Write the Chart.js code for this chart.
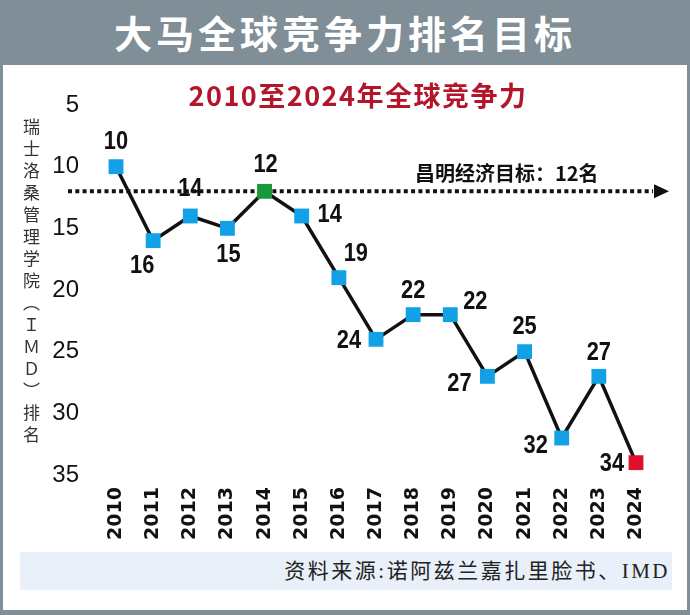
<!DOCTYPE html>
<html>
<head>
<meta charset="utf-8">
<script src="https://cdn.jsdelivr.net/npm/chart.js@4"></script>
<style>
  html, body { margin: 0; padding: 0; }
  body { width: 690px; height: 615px; background: #808e97; position: relative; overflow: hidden; }
  .title { position: absolute; left: 0; top: 8px; width: 690px; text-align: center;
           color: #fff; font: bold 38px 'Noto Sans CJK SC', sans-serif; letter-spacing: 4px; line-height: 48px; }
  .panel { position: absolute; left: 3px; top: 65px; width: 684px; height: 545px; background: #fff; }
  .subtitle { position: absolute; left: 0; top: 13px; width: 710px; text-align: center;
              color: #b3152b; font: bold 27px 'Noto Sans CJK SC', sans-serif;
              letter-spacing: 1.5px; line-height: 34px; }
  .ytitle { position: absolute; left: 16px; top: 53px; writing-mode: vertical-rl; text-orientation: upright;
            color: #333; font: 17px 'Noto Sans CJK SC', sans-serif; letter-spacing: 5px; }
  .footer { position: absolute; left: 17px; top: 487px; width: 652px; height: 38px; background: #e9f0f9;
            text-align: right; color: #222; font: 21px 'Liberation Serif', 'Noto Sans CJK SC', serif;
            line-height: 38px; box-sizing: border-box; padding-right: 2px; letter-spacing: 2.5px; }
  .chart-box { position: absolute; left: 0; top: 0; width: 684px; height: 545px; }
</style>
</head>
<body>
<div class="title">大马全球竞争力排名目标</div>
<div class="panel">
  <div class="chart-box"><canvas id="rankChart"></canvas></div>
  <div class="subtitle">2010至2024年全球竞争力</div>
  <div class="ytitle">瑞士洛桑管理学院（ＩＭＤ）排名</div>
  <div class="footer">资料来源:诺阿兹兰嘉扎里脸书、IMD</div>
</div>

<script>
// ── data ────────────────────────────────────────────────
const YEARS = ['2010','2011','2012','2013','2014','2015','2016','2017','2018','2019','2020','2021','2022','2023','2024'];
const RANKS = [10, 16, 14, 15, 12, 14, 19, 24, 22, 22, 27, 25, 32, 27, 34];
const TARGET = 12;
const TARGET_LABEL = '昌明经济目标：12名';
const Y_TICKS = [5, 10, 15, 20, 25, 30, 35];

// ── styles ──────────────────────────────────────────────
const BLUE = '#12a0e6', GREEN = '#17983a', RED = '#e0112b';
const pointColors = YEARS.map(y => y === '2014' ? GREEN : y === '2024' ? RED : BLUE);
// label offsets from each marker [dx, dy]
const LABEL_OFFSETS = [
  [0,-25], [-11,25], [0,-27], [1,26], [1,-27], [28,-1], [17,-24], [-27,1],
  [0,-24], [25,-13], [-28,7], [0,-25], [-26,8], [0,-24], [-24,1],
];
const SANS = "'Liberation Sans', Arial, sans-serif";

// ── plugins ─────────────────────────────────────────────
const targetLine = {
  id: 'targetLine',
  beforeDatasetsDraw(chart) {
    const { ctx, scales: { y } } = chart;
    const yy = y.getPixelForValue(TARGET);
    ctx.save();
    ctx.strokeStyle = '#111';
    ctx.lineWidth = 4;
    ctx.setLineDash([4, 3.3]);
    ctx.beginPath();
    ctx.moveTo(65, yy);
    ctx.lineTo(650, yy);
    ctx.stroke();
    ctx.setLineDash([]);
    ctx.fillStyle = '#111';
    ctx.beginPath();
    ctx.moveTo(651, yy - 7);
    ctx.lineTo(666, yy);
    ctx.lineTo(651, yy + 7);
    ctx.closePath();
    ctx.fill();
    ctx.font = "bold 20px 'Noto Sans CJK SC', sans-serif";
    ctx.textBaseline = 'middle';
    ctx.textAlign = 'left';
    ctx.fillText(TARGET_LABEL, 412, yy - 18);
    ctx.restore();
  }
};

const valueLabels = {
  id: 'valueLabels',
  afterDatasetsDraw(chart) {
    const { ctx } = chart;
    const meta = chart.getDatasetMeta(0);
    const sx = 0.84;
    ctx.save();
    ctx.font = 'bold 26px ' + SANS;
    ctx.fillStyle = '#111';
    ctx.textAlign = 'center';
    ctx.textBaseline = 'middle';
    meta.data.forEach((pt, i) => {
      const [dx, dy] = LABEL_OFFSETS[i];
      ctx.save();
      ctx.translate(pt.x + dx, pt.y + dy);
      ctx.scale(sx, 1);
      ctx.fillText(String(RANKS[i]), 0, 0);
      ctx.restore();
    });
    ctx.restore();
  }
};

// ── chart ───────────────────────────────────────────────
new Chart(document.getElementById('rankChart'), {
  type: 'line',
  data: {
    labels: YEARS,
    datasets: [{
      data: RANKS,
      borderColor: '#111',
      borderWidth: 3.5,
      tension: 0,
      pointStyle: 'rect',
      pointRadius: 10.5,
      pointHoverRadius: 10.5,
      pointBorderWidth: 0,
      pointBackgroundColor: pointColors,
      clip: false,
    }],
  },
  options: {
    responsive: true,
    maintainAspectRatio: false,
    animation: false,
    layout: { padding: { top: 40, right: 51, left: 0, bottom: 0 } },
    plugins: { legend: { display: false }, tooltip: { enabled: false } },
    scales: {
      x: {
        offset: false,
        grid: { display: false, drawTicks: false },
        border: { display: false },
        ticks: {
          maxRotation: 90, minRotation: 90, padding: 12, color: '#111',
          font: { family: "'DejaVu Sans', sans-serif", weight: 'bold', size: 19 },
        },
        afterFit: s => { s.height = 135; },
      },
      y: {
        reverse: true, min: 5, max: 35,
        afterBuildTicks: s => { s.ticks = Y_TICKS.map(v => ({ value: v })); },
        grid: { display: false, drawTicks: false },
        border: { display: false },
        ticks: {
          padding: 37, color: '#111',
          font: { family: SANS, size: 24 },
        },
        // keep the wide label gap from pushing the plot down
        afterFit: s => { s.width = 113; s.paddingTop = 0; s.paddingBottom = 0; },
      },
    },
  },
  plugins: [targetLine, valueLabels],
});
</script>
</body>
</html>
